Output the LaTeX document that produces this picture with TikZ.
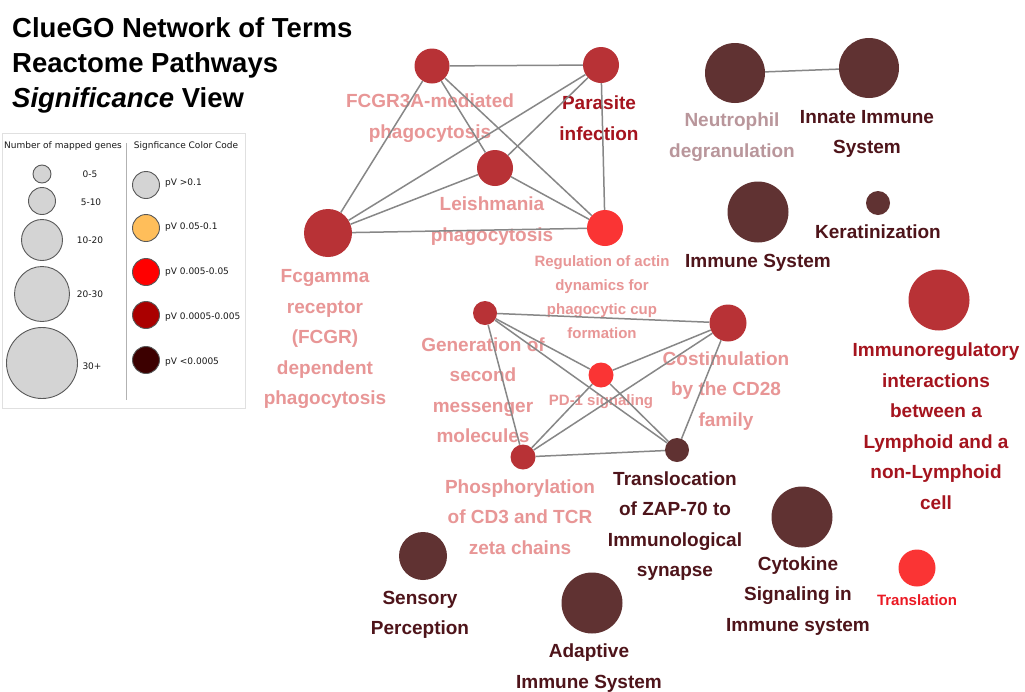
\documentclass[tikz,border=0pt]{standalone}
\usepackage{fontspec}
\setmainfont{Liberation Sans}
\newfontfamily\legendfont{DejaVu Sans}
\definecolor{sigmid}{RGB}{184,50,54}
\definecolor{sighigh}{RGB}{250,52,52}
\definecolor{sigtop}{RGB}{96,50,50}
\definecolor{lblpink}{RGB}{232,150,150}
\definecolor{lblbrown}{RGB}{78,20,26}
\definecolor{lblred}{RGB}{165,20,30}
\definecolor{lblgrey}{RGB}{185,150,155}
\definecolor{lblbright}{RGB}{235,25,35}
\definecolor{edgegrey}{RGB}{135,135,135}
\definecolor{lgdgrey}{RGB}{212,212,212}
\definecolor{lgdorange}{RGB}{255,190,90}
\definecolor{lgdred}{RGB}{255,0,0}
\definecolor{lgddark}{RGB}{170,0,0}
\definecolor{lgddeep}{RGB}{60,0,0}
\begin{document}
\begin{tikzpicture}[x=1pt,y=-1pt,
  term/.style={circle, draw=none, inner sep=0pt, minimum size=#1},
  termA/.style={term=#1, fill=sigmid},
  termB/.style={term=#1, fill=sighigh},
  termC/.style={term=#1, fill=sigtop},
  lbl/.style={align=center, inner sep=0pt, font=\bfseries\fontsize{19}{30.5}\selectfont},
  lblsmall/.style={align=center, inner sep=0pt, font=\bfseries\fontsize{15}{24}\selectfont},
  link/.style={draw=edgegrey, line width=1.5pt},
  lgdcirc/.style={circle, draw=black!65, line width=0.9pt, inner sep=0pt, minimum size=#1},
  lgdtxt/.style={inner sep=0pt, font=\legendfont\fontsize{9}{11}\selectfont, text=black!90},
  title/.style={anchor=base west, inner sep=0pt, font=\bfseries\fontsize{27.5}{30}\selectfont}
]
\useasboundingbox[fill=white] (0,0) rectangle (1025,691);

% ---- title ----
\node[title] (t1) at (12,37) {ClueGO Network of Terms};
\node[title] (t2) at (12,72) {Reactome Pathways};
\node[title] (t3) at (12,107) {\itshape Significance\upshape{} View};

% ---- legend ----
\draw[black!12, line width=0.8pt] (2,133) rectangle (245,408);
\draw[black!30, line width=1pt] (126,143) -- (126,400);
\node[lgdtxt] (lhA) at (63,146) {Number of mapped genes};
\node[lgdtxt] (lhB) at (186,146) {Signficance Color Code};
\node[lgdcirc=18, fill=lgdgrey] (s1) at (42,174) {};
\node[lgdcirc=27, fill=lgdgrey] (s2) at (42,201) {};
\node[lgdcirc=41, fill=lgdgrey] (s3) at (42,240) {};
\node[lgdcirc=55, fill=lgdgrey] (s4) at (42,294) {};
\node[lgdcirc=71, fill=lgdgrey] (s5) at (42,363) {};
\node[lgdtxt] (s1t) at (90,174) {0-5};
\node[lgdtxt] (s2t) at (91,202) {5-10};
\node[lgdtxt] (s3t) at (90,240) {10-20};
\node[lgdtxt] (s4t) at (90,294) {20-30};
\node[lgdtxt] (s5t) at (92,366) {30+};
\node[lgdcirc=27, fill=lgdgrey] (c1) at (146,185) {};
\node[lgdcirc=27, fill=lgdorange] (c2) at (146,228) {};
\node[lgdcirc=27, fill=lgdred] (c3) at (146,272) {};
\node[lgdcirc=27, fill=lgddark] (c4) at (146,315) {};
\node[lgdcirc=27, fill=lgddeep] (c5) at (146,360) {};
\node[lgdtxt, anchor=west] (c1t) at (165,183) {pV >0.1};
\node[lgdtxt, anchor=west] (c2t) at (165,227) {pV 0.05-0.1};
\node[lgdtxt, anchor=west] (c3t) at (165,272) {pV 0.005-0.05};
\node[lgdtxt, anchor=west] (c4t) at (165,317) {pV 0.0005-0.005};
\node[lgdtxt, anchor=west] (c5t) at (165,362) {pV <0.0005};

% ---- terms ----
\node[termA=35] (fcgr3a) at (432,66) {};
\node[termA=36] (parasite) at (601,65) {};
\node[termA=36] (leish) at (495,168) {};
\node[termA=48] (fcgamma) at (328,233) {};
\node[termB=36] (actin) at (605,228) {};
\node[termC=60] (neutro) at (735,73) {};
\node[termC=60] (innate) at (869,68) {};
\node[termC=61] (immune) at (758,212) {};
\node[termC=24] (kerat) at (878,203) {};
\node[termA=61] (immreg) at (939,300) {};
\node[termA=24] (second) at (485,313) {};
\node[termB=25] (pd1) at (601,375) {};
\node[termA=37] (costim) at (728,323) {};
\node[termA=25] (phospho) at (523,457) {};
\node[termC=24] (zap) at (677,450) {};
\node[termC=48] (sensory) at (423,556) {};
\node[termC=61] (adaptive) at (592,603) {};
\node[termC=61] (cytokine) at (802,517) {};
\node[termB=37] (transl) at (917,568) {};

% ---- term labels ----
\node[lbl, text=lblpink] (l-fcgr3a) at (430,118) {FCGR3A-mediated\\phagocytosis};
\node[lbl, text=lblred] (l-parasite) at (599,118) {Parasite\\infection};
\node[lbl, text=lblpink] (l-leish) at (492,221) {Leishmania\\phagocytosis};
\node[lbl, text=lblpink] (l-fcgamma) at (325,339) {Fcgamma\\receptor\\(FCGR)\\dependent\\phagocytosis};
\node[lblsmall, text=lblpink] (l-actin) at (602,297) {Regulation of actin\\dynamics for\\phagocytic cup\\formation};
\node[lbl, text=lblgrey] (l-neutro) at (732,137) {Neutrophil\\degranulation};
\node[lbl, text=lblbrown] (l-innate) at (867,134) {Innate Immune\\System};
\node[lbl, text=lblbrown] (l-immune) at (758,263) {Immune System};
\node[lbl, text=lblbrown] (l-kerat) at (878,232) {Keratinization};
\node[lbl, text=lblred] (l-immreg) at (936,426) {Immunoregulatory\\interactions\\between a\\Lymphoid and a\\non-Lymphoid\\cell};
\node[lbl, text=lblpink] (l-second) at (483,390) {Generation of\\second\\messenger\\molecules};
\node[lblsmall, text=lblpink] (l-pd1) at (601,402) {PD-1 signaling};
\node[lbl, text=lblpink] (l-costim) at (726,391) {Costimulation\\by the CD28\\family};
\node[lbl, text=lblpink] (l-phospho) at (520,517) {Phosphorylation\\of CD3 and TCR\\zeta chains};
\node[lbl, text=lblbrown] (l-zap) at (675,526) {Translocation\\of ZAP-70 to\\Immunological\\synapse};
\node[lbl, text=lblbrown] (l-sensory) at (420,615) {Sensory\\Perception};
\node[lbl, text=lblbrown] (l-adaptive) at (589,668) {Adaptive\\Immune System};
\node[lbl, text=lblbrown] (l-cytokine) at (798,596) {Cytokine\\Signaling in\\Immune system};
\node[lblsmall, text=lblbright] (l-transl) at (917,600) {Translation};

% ---- links: phagocytosis cluster ----
\draw[link] (fcgr3a) -- (parasite);
\draw[link] (fcgr3a) -- (fcgamma);
\draw[link] (fcgr3a) -- (leish);
\draw[link] (fcgr3a) -- (actin);
\draw[link] (parasite) -- (fcgamma);
\draw[link] (parasite) -- (leish);
\draw[link] (parasite) -- (actin);
\draw[link] (leish) -- (fcgamma);
\draw[link] (leish) -- (actin);
\draw[link] (fcgamma) -- (actin);

% ---- links: T-cell signalling cluster ----
\draw[link] (second) -- (costim);
\draw[link] (second) -- (phospho);
\draw[link] (second) -- (pd1);
\draw[link] (second) -- (zap);
\draw[link] (costim) -- (pd1);
\draw[link] (costim) -- (phospho);
\draw[link] (costim) -- (zap);
\draw[link] (pd1) -- (phospho);
\draw[link] (pd1) -- (zap);
\draw[link] (phospho) -- (zap);

% ---- links: innate immunity ----
\draw[link] (neutro) -- (innate);
\end{tikzpicture}
\end{document}
